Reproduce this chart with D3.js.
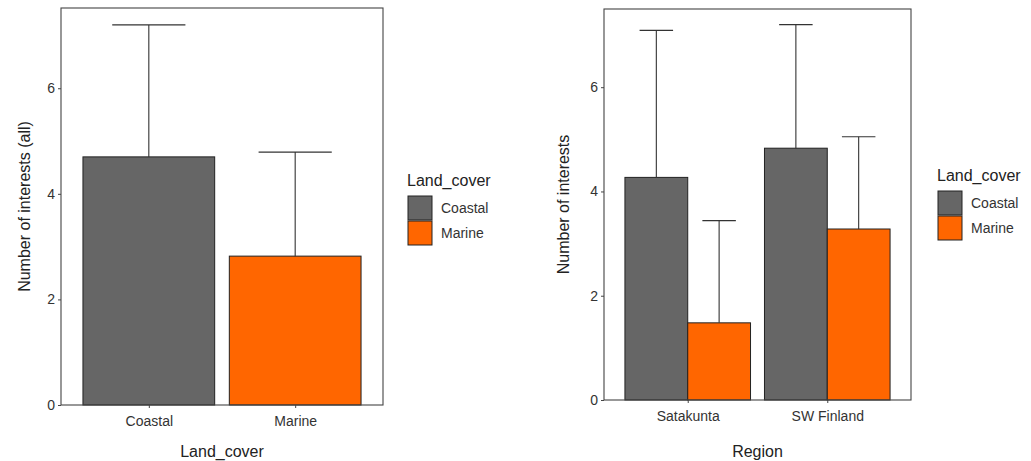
<!DOCTYPE html>
<html>
<head>
<meta charset="utf-8">
<script src="https://cdn.jsdelivr.net/npm/d3@7"></script>
<style>
body{margin:0;background:#fff;}
svg text{font-family:"Liberation Sans",Arial,sans-serif;}
</style>
</head>
<body>
<svg id="chart" width="1031" height="461"></svg>
<script>
// ---- data ----
const landCovers = ["Coastal", "Marine"];
const allMeans = [4.70, 2.82];
const allUpper = [7.20, 4.79];

const regions = ["Satakunta", "SW Finland"];
const regionCoastalMeans = [4.27, 4.83];
const regionCoastalUpper = [7.09, 7.20];
const regionMarineMeans = [1.48, 3.28];
const regionMarineUpper = [3.44, 5.05];

const yTicks = [0, 2, 4, 6];
const colors = {Coastal: "#666666", Marine: "#FF6600"};

const svg = d3.select("#chart");
const txt = "#333333";

function panel(cfg) {
  const g = svg.append("g");
  const x = d3.scaleLinear().domain([0.4, cfg.nCat + 0.6]).range([cfg.left, cfg.right]);
  const y = d3.scaleLinear().domain([0, cfg.yMax]).range([cfg.bottom, cfg.top]);

  // bars
  g.selectAll("rect.bar").data(cfg.bars).enter().append("rect")
    .attr("x", d => x(d.pos - d.w / 2))
    .attr("width", d => x(d.pos + d.w / 2) - x(d.pos - d.w / 2))
    .attr("y", d => y(d.v))
    .attr("height", d => y(0) - y(d.v))
    .attr("fill", d => colors[d.lc])
    .attr("stroke", "#222").attr("stroke-width", 1);

  // error bars (upper only)
  const eb = g.selectAll("g.eb").data(cfg.bars).enter().append("g");
  eb.append("line")
    .attr("x1", d => x(d.pos)).attr("x2", d => x(d.pos))
    .attr("y1", d => y(d.v)).attr("y2", d => y(d.up))
    .attr("stroke", "#333").attr("stroke-width", 1.1);
  eb.append("line")
    .attr("x1", d => x(d.pos - d.cap / 2)).attr("x2", d => x(d.pos + d.cap / 2))
    .attr("y1", d => y(d.up)).attr("y2", d => y(d.up))
    .attr("stroke", "#333").attr("stroke-width", 1.1);

  // panel border
  g.append("rect")
    .attr("x", cfg.left).attr("y", cfg.top)
    .attr("width", cfg.right - cfg.left).attr("height", cfg.bottom - cfg.top)
    .attr("fill", "none").attr("stroke", "#444").attr("stroke-width", 1.1);

  // y axis
  const ya = g.append("g").attr("transform", `translate(${cfg.left},0)`)
    .call(d3.axisLeft(y).tickValues(yTicks).tickSize(3).tickPadding(3).tickFormat(d3.format("d")));
  ya.select(".domain").remove();
  ya.selectAll("line").attr("stroke", "#444");
  ya.selectAll("text").attr("fill", txt).style("font-size", "14px");

  // x axis
  const xa = g.append("g").attr("transform", `translate(0,${cfg.bottom})`)
    .call(d3.axisBottom(x).tickValues(d3.range(1, cfg.nCat + 1)).tickSize(3).tickPadding(8)
      .tickFormat((d, i) => cfg.cats[i]));
  xa.select(".domain").remove();
  xa.selectAll("line").attr("stroke", "#444");
  xa.selectAll("text").attr("fill", txt).style("font-size", "14px");

  // axis titles
  g.append("text").attr("x", (cfg.left + cfg.right) / 2).attr("y", cfg.xTitleY)
    .attr("text-anchor", "middle").attr("fill", "#222").style("font-size", "16px").text(cfg.xTitle);
  g.append("text")
    .attr("transform", `translate(${cfg.yTitleX},${(cfg.top + cfg.bottom) / 2}) rotate(-90)`)
    .attr("text-anchor", "middle").attr("fill", "#222").style("font-size", "16px").text(cfg.yTitle);

  // legend
  const lg = g.append("g").attr("transform", `translate(${cfg.legX},${cfg.legY})`);
  lg.append("text").attr("x", -1).attr("y", 0).attr("fill", "#222").style("font-size", "16px").text("Land_cover");
  landCovers.forEach((lc, i) => {
    lg.append("rect").attr("x", 0).attr("y", 10 + i * 25).attr("width", 24).attr("height", 24)
      .attr("fill", colors[lc]).attr("stroke", "#222").attr("stroke-width", 1);
    lg.append("text").attr("x", 33).attr("y", 22 + i * 25).attr("dy", "0.35em")
      .attr("fill", txt).style("font-size", "14px").text(lc);
  });
}

// left panel
panel({
  left: 61, right: 383, top: 8, bottom: 405, yMax: 7.52, nCat: 2,
  cats: landCovers,
  bars: landCovers.map((lc, i) => ({pos: i + 1, w: 0.9, cap: 0.5, v: allMeans[i], up: allUpper[i], lc})),
  xTitle: "Land_cover", yTitle: "Number of interests (all)",
  xTitleY: 457, yTitleX: 30, legX: 408, legY: 186
});

// right panel
const rb = [];
regions.forEach((r, i) => {
  rb.push({pos: i + 1 - 0.225, w: 0.45, cap: 0.24, v: regionCoastalMeans[i], up: regionCoastalUpper[i], lc: "Coastal"});
  rb.push({pos: i + 1 + 0.225, w: 0.45, cap: 0.24, v: regionMarineMeans[i], up: regionMarineUpper[i], lc: "Marine"});
});
panel({
  left: 604, right: 911, top: 9, bottom: 400, yMax: 7.5, nCat: 2,
  cats: regions,
  bars: rb,
  xTitle: "Region", yTitle: "Number of interests",
  xTitleY: 457, yTitleX: 569, legX: 938, legY: 181
});
</script>
</body>
</html>
